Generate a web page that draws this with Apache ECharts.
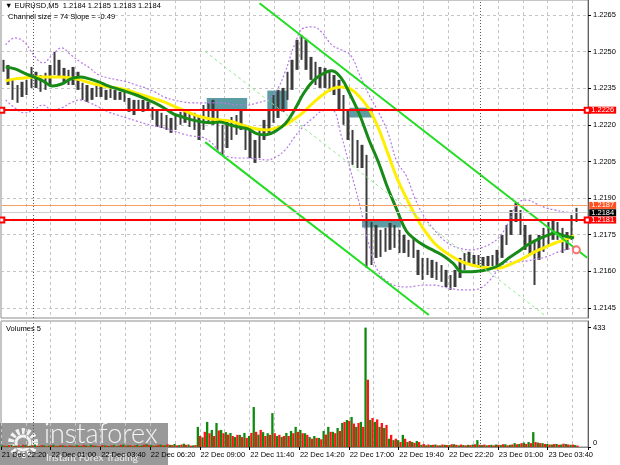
<!DOCTYPE html>
<html><head><meta charset="utf-8">
<script src="https://cdn.jsdelivr.net/npm/echarts@6/dist/echarts.min.js"></script>
<style>html,body{margin:0;padding:0;background:#fff}#c{width:620px;height:465px}</style>
</head><body><div id="c"></div>
<script>
const FONT = 'Liberation Sans';
// ---- tick labels ----
const priceTicks = [1.2145, 1.2160, 1.2175, 1.2190, 1.2205, 1.2220, 1.2235, 1.2250, 1.2265];
const volTicks = [0, 433];
const startTime = Date.UTC(2020, 11, 21, 22, 20); // first 5-min slot of the x axis
const SLOTS = 378;
const dayBreaks = [20, 308]; // slot index of 22 Dec 00:00 and 23 Dec 00:00

// ---- price bars (15-minute groups: high / low) ----
const barHigh = [1.22466,1.22445,1.22384,1.22363,1.22376,1.22384,1.22437,1.22417,1.22404,1.22413,
 1.22445,1.22499,1.22466,1.22433,1.22425,1.22437,1.22417,1.22372,1.22363,1.22351,
 1.22372,1.22363,1.22343,1.22351,1.22343,1.22335,1.22343,1.2231,1.22302,1.22302,
 1.22302,1.22294,1.22273,1.22261,1.22249,1.2224,1.22228,1.2224,1.22253,1.22261,
 1.22253,1.22249,1.2224,1.22281,1.2229,1.22302,1.22261,1.222,1.2222,1.22232,
 1.2224,1.22261,1.222,1.22179,1.22138,1.22179,1.2222,1.22261,1.22322,1.22343,
 1.22351,1.22417,1.22466,1.22548,1.22568,1.22548,1.22478,1.22458,1.22437,1.22433,
 1.22425,1.22404,1.22384,1.22322,1.22261,1.22179,1.22138,1.22118,1.22077,1.21802,
 1.2179,1.2177,1.21778,1.21798,1.2179,1.2177,1.21749,1.21729,1.21737,1.21688,
 1.21655,1.21655,1.21647,1.21639,1.21626,1.21606,1.21585,1.21606,1.21655,1.21675,
 1.2168,1.21667,1.21667,1.21659,1.21663,1.21667,1.21688,1.21749,1.2179,1.21851,
 1.2188,1.21851,1.2179,1.21749,1.21729,1.21749,1.21778,1.21802,1.2181,1.21802,
 1.21778,1.21761,1.21831,1.2186];
const barLow = [1.22417,1.22363,1.22302,1.2229,1.22314,1.22322,1.22351,1.22351,1.22335,1.22343,
 1.22363,1.22404,1.22392,1.22372,1.22363,1.22363,1.22343,1.22302,1.22294,1.22302,
 1.22314,1.22314,1.22302,1.2231,1.22302,1.22302,1.22294,1.22253,1.2224,1.22261,
 1.22253,1.22261,1.2222,1.22191,1.22187,1.22179,1.22167,1.22179,1.222,1.22208,
 1.22191,1.22179,1.22138,1.22179,1.22208,1.222,1.22097,1.22077,1.22105,1.22138,
 1.22159,1.22179,1.22097,1.22064,1.22044,1.22064,1.22138,1.22167,1.22208,1.22228,
 1.22253,1.22302,1.22343,1.22425,1.22466,1.22425,1.22384,1.22363,1.22351,1.22351,
 1.22335,1.22322,1.22261,1.222,1.22138,1.22036,1.22023,1.22023,1.21614,1.21626,
 1.21655,1.21659,1.2168,1.21688,1.21696,1.21675,1.21675,1.21659,1.21655,1.21585,
 1.21565,1.21585,1.21573,1.21565,1.21557,1.21536,1.21524,1.21536,1.21573,1.21606,
 1.21626,1.21618,1.21614,1.21618,1.21622,1.21622,1.21626,1.21655,1.21708,1.21749,
 1.21802,1.21749,1.21688,1.21667,1.21544,1.21647,1.2168,1.21708,1.21729,1.21729,
 1.21675,1.21688,1.21729,1.21802];

// ---- indicators (30-minute samples) ----
const maFast = [1.22437,1.22429,1.22412,1.22396,1.2238,1.22359,1.22367,1.22388,1.22396,1.22388,
 1.22376,1.22359,1.22347,1.22335,1.22322,1.22306,1.2229,1.22269,1.22245,1.22232,
 1.2222,1.22212,1.22208,1.22212,1.222,1.22191,1.22183,1.22163,1.22159,1.22175,
 1.22204,1.22261,1.2233,1.2238,1.22408,1.22421,1.22392,1.22322,1.2224,1.22138,
 1.22048,1.21942,1.21851,1.21765,1.21729,1.21704,1.21684,1.21663,1.21634,1.21598,
 1.21598,1.21602,1.2161,1.21626,1.21655,1.2168,1.21708,1.21729,1.21745,1.21757,
 1.21745,1.21737];
const maSlow = [1.2238,1.22388,1.22392,1.22396,1.22396,1.22396,1.22396,1.22392,1.22384,1.22372,
 1.22363,1.22355,1.22351,1.22343,1.2233,1.22318,1.22306,1.22294,1.22277,1.22261,
 1.22245,1.22232,1.22224,1.2222,1.22216,1.22204,1.22191,1.22183,1.22179,1.22187,
 1.222,1.22224,1.22253,1.2229,1.22322,1.22347,1.22355,1.22347,1.22314,1.22265,
 1.22187,1.22085,1.21982,1.21901,1.21827,1.21765,1.21716,1.21684,1.21659,1.21639,
 1.21626,1.21618,1.21614,1.21614,1.21626,1.21643,1.21663,1.21684,1.217,1.21716,
 1.21729,1.21745];
const bandUpper = [1.22527,1.22556,1.22539,1.22486,1.22453,1.22486,1.22515,1.22486,1.22458,1.22433,
 1.22404,1.22392,1.22384,1.22376,1.22363,1.22351,1.22335,1.22314,1.22302,1.22294,
 1.2229,1.2229,1.2229,1.2229,1.22286,1.22281,1.22281,1.2229,1.22302,1.22335,
 1.22417,1.22527,1.22597,1.22601,1.22576,1.22527,1.22507,1.22486,1.22404,1.22322,
 1.22253,1.22171,1.22048,1.21991,1.21892,1.21819,1.2177,1.21729,1.21704,1.21692,
 1.21688,1.21696,1.21712,1.21741,1.21802,1.2188,1.21892,1.21876,1.2186,1.21851,
 1.21843,1.21839];
const bandLower = [1.22302,1.22269,1.22249,1.22261,1.22281,1.22261,1.22269,1.2229,1.22302,1.2229,
 1.22273,1.22253,1.2224,1.22228,1.22216,1.22204,1.22195,1.22187,1.22175,1.22163,
 1.22154,1.2215,1.2213,1.22089,1.22068,1.22064,1.22064,1.2206,1.22056,1.22068,
 1.22097,1.2215,1.22195,1.22228,1.22257,1.22261,1.22159,1.22015,1.21872,1.21708,
 1.21598,1.21557,1.2154,1.21536,1.2154,1.21544,1.21544,1.21536,1.21528,1.21524,
 1.21524,1.21532,1.21565,1.21614,1.21639,1.21639,1.21643,1.21651,1.21659,1.21675,
 1.21688,1.21696];

// ---- volumes (15-minute groups: rising / falling bars) ----
const volUp = [6,4,8,5,3,7,5,9,4,6, 5,8,4,6,3,5,7,4,6,8, 5,3,6,4,7,5,9,6,4,8, 6,10,7,5,9,6,8,11,7,12, 9,6,
 73,35,91,62,87,62,54,51,36,44, 51,40,145,45,54,50,123,40,36,51, 58,73,62,50,36,40,33,58,73,55,
 69,87,98,109,73,91,433,98,91,73, 69,30,25,25,44,18,18,22,
 8,6,7,9,6,8,7,10,6,7, 8,9,25,7,6,8,9,7,10,8, 14,11,16,18,54,16,14,11,9,11, 9,11,8,7];
const volDown = [5,7,4,6,8,4,6,5,7,3, 6,4,7,5,6,4,5,8,3,6, 4,7,5,6,3,8,5,7,6,4, 9,7,5,8,6,10,7,6,9,8, 5,7,
 40,55,50,40,60,50,45,40,44,36, 33,51,55,62,40,44,50,44,40,40, 50,55,50,44,30,33,28,45,55,50,
 58,91,95,85,87,73,244,105,100,87, 80,44,30,18,30,22,15,18,
 11,9,8,6,9,7,10,8,9,6, 7,10,8,9,7,6,8,10,6,9, 10,14,11,14,18,14,11,9,11,8, 12,9,9,5];

// ---- drawn objects (slot index, price) ----
const levelLines = [1.2226, 1.2181];
const askLine = 1.2187, bidLine = 1.2184;
const channelUpper = [[166, 1.22698], [377, 1.21656]];
const channelLower = [[131, 1.22129], [275, 1.21421]];
const channelMid = [[131, 1.22500], [350, 1.21418]];
const zones = [[132, 158, 1.2226, 1.2231], [171, 184, 1.2226, 1.2234], [224, 239, 1.2223, 1.2227], [232, 257, 1.2178, 1.2181]];
const stopMark = [370, 1.21688];

const MON = ['Jan','Feb','Mar','Apr','May','Jun','Jul','Aug','Sep','Oct','Nov','Dec'];
function fmt(ms){const d=new Date(ms);const p=n=>String(n).padStart(2,'0');return d.getUTCDate()+' '+MON[d.getUTCMonth()]+' '+p(d.getUTCHours())+':'+p(d.getUTCMinutes());}
const slotCats = Array.from({length:SLOTS},(_,i)=>fmt(startTime+i*300000));
const cats15 = Array.from({length:SLOTS/3},(_,i)=>fmt(startTime+i*900000));
const cats30 = Array.from({length:SLOTS/6},(_,i)=>fmt(startTime+i*1800000));

const gridDash = {color:'#c4c4c4', width:1, type:[3,3]};
const txt = {fontFamily: FONT, fontSize: 7.5, color:'#000'};
function boxLabel(v, bg){return {show:true, position:'end', distance:2, formatter: v.toFixed(4), backgroundColor: bg, color:'#fff', fontFamily: FONT, fontSize:7.5, lineHeight:7, padding:[0,2,0,2]};}
function hLine(v, color, width, bg, handle){
  const sym = handle ? 'emptyRect' : 'none';
  return [{coord:[0, v], symbol:sym, symbolSize:5, lineStyle:{color:color, width:width, type:'solid'}, label:boxLabel(v, bg)},
          {coord:[SLOTS-1, v], symbol:sym, symbolSize:5}];
}

const chart = echarts.init(document.getElementById('c'));
const option = {
  animation: false,
  backgroundColor: '#fff',
  title: [
    {text:'\u25BC EURUSD,M5  1.2184 1.2185 1.2183 1.2184', left:5, top:2, padding:0, textStyle:Object.assign({fontWeight:'normal'}, txt)},
    {text:'Channel size = 74 Slope = -0.49', left:8, top:13, padding:0, textStyle:Object.assign({fontWeight:'normal'}, txt)},
    {text:'Volumes 5', left:6, top:325, padding:0, textStyle:Object.assign({fontWeight:'normal'}, txt)}
  ],
  grid: [
    {left:1, right:32, top:0, height:318, show:true, borderColor:'#8c8c8c', borderWidth:1, outerBoundsMode:'none'},
    {left:1, right:32, top:321, height:126, show:true, borderColor:'#8c8c8c', borderWidth:1, outerBoundsMode:'none'}
  ],
  xAxis: [
    {type:'category', gridIndex:0, data:slotCats, axisLabel:{show:false}, axisTick:{show:false}, axisLine:{show:false},
     splitLine:{show:true, interval:15, lineStyle:gridDash}},
    {type:'category', gridIndex:0, data:cats15, show:false},
    {type:'category', gridIndex:0, data:cats30, show:false},
    {type:'category', gridIndex:1, data:slotCats, position:'bottom',
     axisLabel:Object.assign({interval:31, align:'left', margin:4}, txt),
     axisTick:{show:true, interval:31, length:3, lineStyle:{color:'#000'}},
     axisLine:{show:true, lineStyle:{color:'#8c8c8c'}},
     splitLine:{show:true, interval:15, lineStyle:gridDash}},
    {type:'category', gridIndex:1, data:cats15, show:false}
  ],
  yAxis: [
    {type:'value', gridIndex:0, position:'right', min:1.21409, max:1.22711, scale:true,
     axisLine:{show:true, lineStyle:{color:'#606060'}},
     axisTick:{show:true, length:3, customValues:priceTicks, lineStyle:{color:'#000'}},
     axisLabel:Object.assign({customValues:priceTicks, margin:5, formatter:v=>v.toFixed(4)}, txt),
     splitLine:{show:true, lineStyle:gridDash}},
    {type:'value', gridIndex:1, position:'right', min:0, max:457,
     axisLine:{show:true, lineStyle:{color:'#606060'}},
     axisTick:{show:true, length:3, customValues:volTicks, lineStyle:{color:'#000'}},
     axisLabel:Object.assign({customValues:volTicks, margin:5,
       formatter: v => v === 0 ? '{z|0}' : String(v),
       rich:{z:{fontFamily:FONT, fontSize:7.5, color:'#000', padding:[0,0,8,0]}}}, txt),
     splitLine:{show:false}}
  ],
  series: [
    {type:'line', name:'objects', xAxisIndex:0, yAxisIndex:0, data:[], silent:true,
     markArea:{silent:true, itemStyle:{color:'#5d9ca2'},
       data: zones.map(z=>[{coord:[z[0], z[3]]},{coord:[z[1], z[2]]}])},
     markLine:{silent:true, symbol:['none','none'], label:{show:false},
       data:[
         [{coord:channelUpper[0], lineStyle:{color:'#22dd22', width:2, type:'solid'}},{coord:channelUpper[1]}],
         [{coord:channelLower[0], lineStyle:{color:'#22dd22', width:2, type:'solid'}},{coord:channelLower[1]}],
         [{coord:channelMid[0], lineStyle:{color:'#8fe88f', width:1, type:[3,3]}},{coord:channelMid[1]}],
         ...dayBreaks.map(d=>({xAxis:d, lineStyle:{color:'#555', width:1, type:[1,2]}}))
       ]},
     markPoint:{silent:true, symbol:'emptyCircle', symbolSize:7, itemStyle:{color:'#ff7070', borderWidth:1}, label:{show:false},
       data:[{coord:stopMark}]}
    },
    {type:'line', name:'levels', xAxisIndex:0, yAxisIndex:0, data:[], silent:true, z:6,
     markLine:{silent:true, symbol:['none','none'],
       data:[
         hLine(askLine, '#f5a060', 1, '#ff5020', false),
         hLine(bidLine, '#cfcfcf', 1, '#000000', false),
         ...levelLines.map(v=>hLine(v, '#ff0000', 2, '#ff0000', true))
       ]}
    },
    {type:'candlestick', name:'EURUSD', xAxisIndex:1, yAxisIndex:0, barWidth:3, z:2,
     itemStyle:{color:'#3c3c3c', color0:'#3c3c3c', borderColor:'#3c3c3c', borderColor0:'#3c3c3c', borderWidth:0},
     data: barLow.map((lo,i)=>[lo, barHigh[i], lo, barHigh[i]])},
    {type:'line', name:'upper', xAxisIndex:2, yAxisIndex:0, data:bandUpper, smooth:0.4, showSymbol:false, z:3,
     lineStyle:{color:'#b678e6', width:1.2, type:[2,2]}},
    {type:'line', name:'lower', xAxisIndex:2, yAxisIndex:0, data:bandLower, smooth:0.4, showSymbol:false, z:3,
     lineStyle:{color:'#b678e6', width:1.2, type:[2,2]}},
    {type:'line', name:'slow', xAxisIndex:2, yAxisIndex:0, data:maSlow, smooth:0.4, showSymbol:false, z:4,
     lineStyle:{color:'#ffee00', width:3}},
    {type:'line', name:'fast', xAxisIndex:2, yAxisIndex:0, data:maFast, smooth:0.4, showSymbol:false, z:4,
     lineStyle:{color:'#178a17', width:3}},
    {type:'bar', name:'volUp', xAxisIndex:4, yAxisIndex:1, data:volUp, barWidth:2.3, barGap:'0%', itemStyle:{color:'#0f8a0f'}},
    {type:'bar', name:'volDown', xAxisIndex:4, yAxisIndex:1, data:volDown, barWidth:2.3, barGap:'0%', itemStyle:{color:'#ff1414'}},
    {type:'line', name:'volObjects', xAxisIndex:3, yAxisIndex:1, data:[], silent:true,
     markLine:{silent:true, symbol:['none','none'], label:{show:false},
       data: dayBreaks.map(d=>({xAxis:d, lineStyle:{color:'#555', width:1, type:[1,2]}}))}}
  ],
  graphic: [
    {type:'group', z:100, silent:true, children:[
      {type:'rect', shape:{x:0, y:423, width:168, height:42}, style:{fill:'rgba(105,105,105,0.68)'}},
      {type:'circle', shape:{cx:23, cy:443, r:12}, style:{fill:'none', stroke:'#f2f2f2', lineWidth:6, lineDash:[3,2.5]}},
      {type:'circle', shape:{cx:23, cy:443, r:7}, style:{fill:'none', stroke:'#f2f2f2', lineWidth:3}},
      {type:'text', style:{x:44, y:421, text:'instaforex', fill:'#f4f4f4', font:'300 27px Lato'}},
      {type:'text', style:{x:46, y:453, text:'Instant Forex Trading', fill:'#eeeeee', font:'10px Lato'}}
    ]}
  ]
};
chart.setOption(option);
</script></body></html>
